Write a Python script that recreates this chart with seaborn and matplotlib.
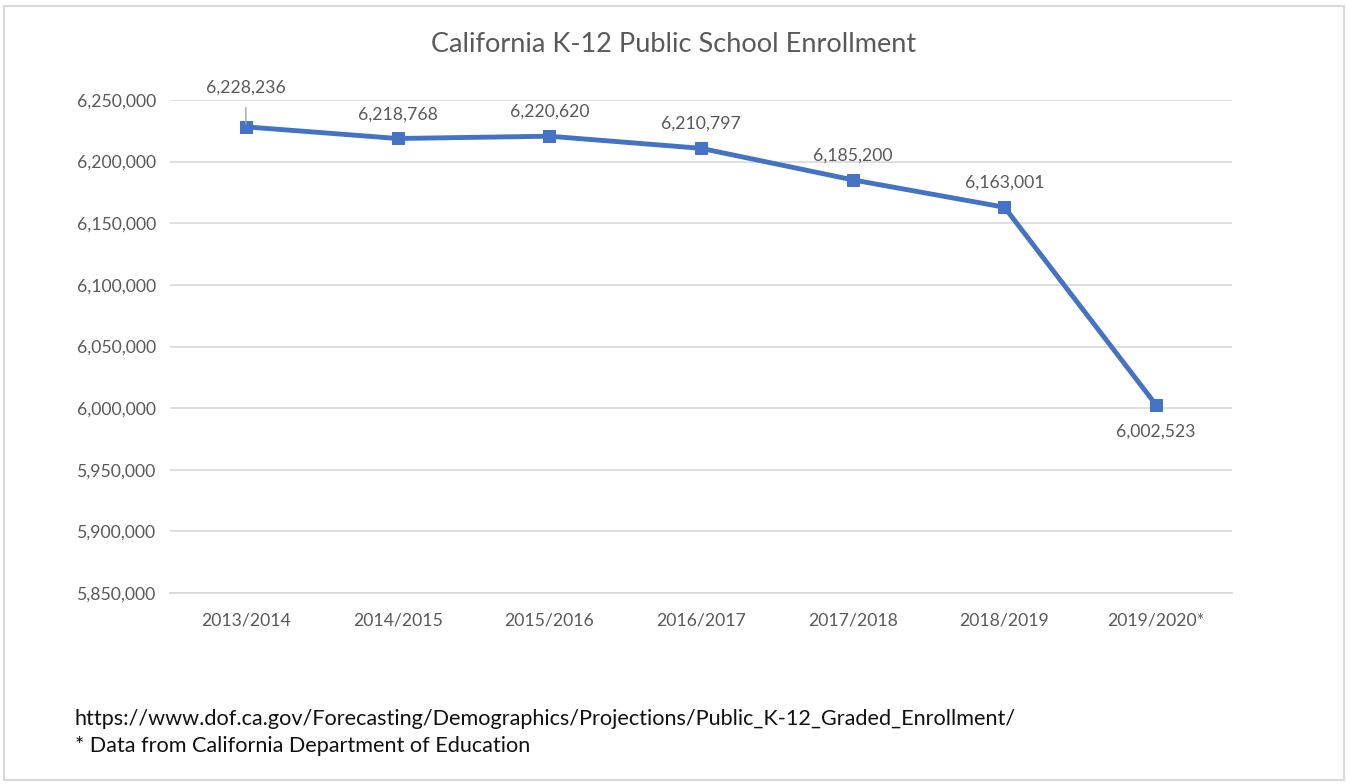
import matplotlib
matplotlib.use("Agg")
import matplotlib.pyplot as plt
import seaborn as sns
import pandas as pd
from matplotlib.ticker import FuncFormatter
from matplotlib.patches import Rectangle

years = ["2013/2014", "2014/2015", "2015/2016", "2016/2017", "2017/2018", "2018/2019", "2019/2020*"]
enrollment = [6228236, 6218768, 6220620, 6210797, 6185200, 6163001, 6002523]
y_ticks = [5850000, 5900000, 5950000, 6000000, 6050000, 6100000, 6150000, 6200000, 6250000]
title = "California K-12 Public School Enrollment"
footnote1 = "https://www.dof.ca.gov/Forecasting/Demographics/Projections/Public_K-12_Graded_Enrollment/"
footnote2 = "* Data from California Department of Education"

sns.set_theme(style="white")
plt.rcParams['font.family'] = ['Lato', 'DejaVu Sans']

df = pd.DataFrame({"year": years, "enrollment": enrollment})

fig = plt.figure(figsize=(13.48, 7.84), dpi=100)
ax = fig.add_axes([170/1348, 1-593/784, (1232-170)/1348, (593-100)/784])

TXT = "#595959"
BLUE = "#4472C4"
FS = 12.7

sns.lineplot(data=df, x="year", y="enrollment", ax=ax, color=BLUE, linewidth=3.5,
             marker="s", markersize=8, markeredgecolor=BLUE, sort=False)

ax.set_ylim(5850000, 6250000)
ax.set_xlim(-0.5, len(years) - 0.5)
ax.set_yticks(y_ticks)
ax.yaxis.set_major_formatter(FuncFormatter(lambda v, p: f"{int(v):,}"))
ax.grid(axis="y", color="#D9D9D9", linewidth=1.2)
ax.set_axisbelow(True)
for s in ax.spines.values():
    s.set_visible(False)
ax.spines["bottom"].set_visible(True)
ax.spines["bottom"].set_color("#D9D9D9")
ax.tick_params(axis="both", length=0, labelsize=FS, colors=TXT, pad=10)
ax.tick_params(axis="x", pad=14)
ax.set_xlabel("")
ax.set_ylabel("")

for i, v in enumerate(enrollment):
    if i == 0:
        ax.annotate(f"{v:,}", (i, v), xytext=(0, 28), textcoords="offset points",
                    ha="center", va="center", fontsize=FS, color=TXT,
                    arrowprops=dict(arrowstyle="-", color="#A6A6A6", lw=1, shrinkA=6, shrinkB=2))
    elif i == len(enrollment) - 1:
        ax.annotate(f"{v:,}", (i, v), xytext=(0, -19), textcoords="offset points",
                    ha="center", va="center", fontsize=FS, color=TXT)
    else:
        ax.annotate(f"{v:,}", (i, v), xytext=(0, 17.5), textcoords="offset points",
                    ha="center", va="center", fontsize=FS, color=TXT)

fig.text(674/1348, 1-44/784, title, ha="center", va="center", fontsize=19.5, color=TXT)
fig.text(75/1348, 1-719/784, footnote1, ha="left", va="center", fontsize=15.6, color="#111111")
fig.text(75/1348, 1-746/784, footnote2, ha="left", va="center", fontsize=15.6, color="#111111")

fig.patches.append(Rectangle((4/1348, 4/784), 1340/1348, 774/784, transform=fig.transFigure,
                             fill=False, edgecolor="#D9D9D9", linewidth=1.5))

fig.savefig("out.png", dpi=100, facecolor="white")
